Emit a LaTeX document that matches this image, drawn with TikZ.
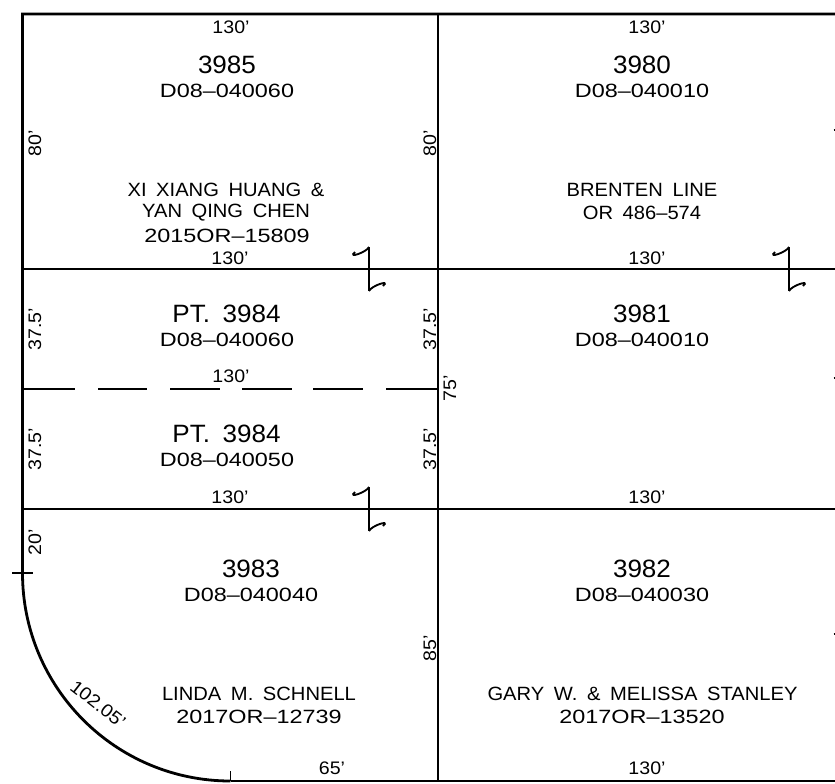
\documentclass[tikz,border=0pt]{standalone}
\usepackage{fontspec}
\setmainfont{Liberation Sans}
\newfontfamily\namefont[FakeStretch=1.05]{Liberation Sans}
\newfontfamily\codefont[FakeStretch=1.22]{Liberation Sans}
\newfontfamily\numfont[FakeStretch=1.04]{Liberation Sans}
\newfontfamily\dimfont[FakeStretch=1.08]{Liberation Sans}
\tikzset{
  x=0.75pt,y=-0.75pt,
  lot/.style={line width=2.1pt,line cap=butt,black},
  thinl/.style={line width=1.4pt,black},
  lbl/.style={inner sep=0pt,font=\fontsize{14.4}{14.4}\namefont,text=black},
  code/.style={inner sep=0pt,font=\fontsize{14.4}{14.4}\codefont,text=black},
  num/.style={inner sep=0pt,font=\fontsize{18.8}{18.8}\numfont,text=black},
  dim/.style={inner sep=0pt,font=\fontsize{13.6}{13.6}\dimfont,text=black},
  vdim/.style={dim,rotate=90},
}
\newcommand{\gp}{\hspace{0.5em}}
\begin{document}
\begin{tikzpicture}
\useasboundingbox (0,0) rectangle (835,783);
% named corners
\coordinate (tl) at (22.5,14);
\coordinate (tm) at (438,14);
\coordinate (tr) at (835,14);
\coordinate (l1) at (22.5,269);
\coordinate (m1) at (438,269);
\coordinate (r1) at (835,269);
\coordinate (l2) at (22.5,509);
\coordinate (m2) at (438,509);
\coordinate (r2) at (835,509);
\coordinate (arcS) at (22.5,573);
\coordinate (arcE) at (230.5,781);
\coordinate (bm) at (438,781);
\coordinate (br) at (835,781);
% boundaries
\draw[lot] (tr) -- (tl) -- (arcS) arc[start angle=180,end angle=270,x radius=208,y radius=-208];
\draw[lot] (arcE) -- (br);
\draw[lot] (tm) -- (bm);
\draw[lot] (l1) -- (r1);
\draw[lot] (l2) -- (r2);
% dashed lot split
\foreach \a/\b in {22.5/75,98/147,170/220,242/292,313/363,386/438}
  \draw[lot,line width=1.8pt] (\a,389) -- (\b,389);
% ticks
\draw[thinl] (12,573) -- (33,573);
\draw[thinl] (230.5,771) -- (230.5,781);
\foreach \x/\y in {369/269,789/269,369/509}{
  \draw[thinl] (\x,\y) ++(0,-22) -- ++(0,44);
  \draw[thinl] (\x,\y) ++(0,-22) .. controls +(-2,5) and +(-8,7) .. ++(-14,5);
  \draw[thinl] (\x,\y) ++(0,22) .. controls +(2,-5) and +(8,-7) .. ++(14,-5);
}
\foreach \y in {130,378,634}
  \draw[thinl] (833.5,\y) -- (835,\y);
% lot 3985
\node[dim] (a1) at (231,27) {130’};
\node[num] (a2) at (227,65) {3985};
\node[code] (a3) at (227,91) {D08–040060};
\node[vdim] (a4) at (35,143) {80’};
\node[vdim] (a5) at (430,143) {80’};
\node[lbl] (a6) at (226,190) {XI\gp XIANG\gp HUANG\gp \&};
\node[lbl] (a7) at (226,213) {YAN\gp QING\gp CHEN};
\node[code] (a8) at (227,236) {2015OR–15809};
\node[dim] (a9) at (230,258) {130’};
% lot 3980
\node[dim] (b1) at (647,27) {130’};
\node[num] (b2) at (642,65) {3980};
\node[code] (b3) at (642,91) {D08–040010};
\node[lbl] (b4) at (642,190) {BRENTEN\gp LINE};
\node[lbl] (b5) at (642,213) {OR\gp 486–574};
\node[dim] (b6) at (647,258) {130’};
% lots 3984
\node[num] (c1) at (226.5,314) {PT.\gp 3984};
\node[code] (c2) at (227,340) {D08–040060};
\node[dim] (c3) at (231,376) {130’};
\node[vdim] (c4) at (35,329) {37.5’};
\node[vdim] (c5) at (430,329) {37.5’};
\node[num] (c6) at (226.5,434) {PT.\gp 3984};
\node[code] (c7) at (227,460) {D08–040050};
\node[vdim] (c8) at (35,449) {37.5’};
\node[vdim] (c9) at (430,449) {37.5’};
\node[dim] (c10) at (230,497) {130’};
% lot 3981
\node[num] (d1) at (642,314) {3981};
\node[code] (d2) at (642,340) {D08–040010};
\node[vdim] (d3) at (450,388) {75’};
\node[dim] (d4) at (647,497) {130’};
% lot 3983
\node[vdim] (e1) at (35,542) {20’};
\node[num] (e2) at (251,569) {3983};
\node[code] (e3) at (251,595) {D08–040040};
\node[lbl] (e4) at (259,694) {LINDA\gp M.\gp SCHNELL};
\node[code] (e5) at (259,717) {2017OR–12739};
\node[dim,rotate=-38] (e6) at (98,704) {102.05’};
\node[dim] (e7) at (332,768) {65’};
\node[vdim] (e8) at (430,648) {85’};
% lot 3982
\node[num] (f1) at (642,569) {3982};
\node[code] (f2) at (642,595) {D08–040030};
\node[lbl] (f3) at (642.5,694) {GARY\gp W.\gp \&\gp MELISSA\gp STANLEY};
\node[code] (f4) at (642,717) {2017OR–13520};
\node[dim] (f5) at (647,768) {130’};
\end{tikzpicture}
\end{document}
